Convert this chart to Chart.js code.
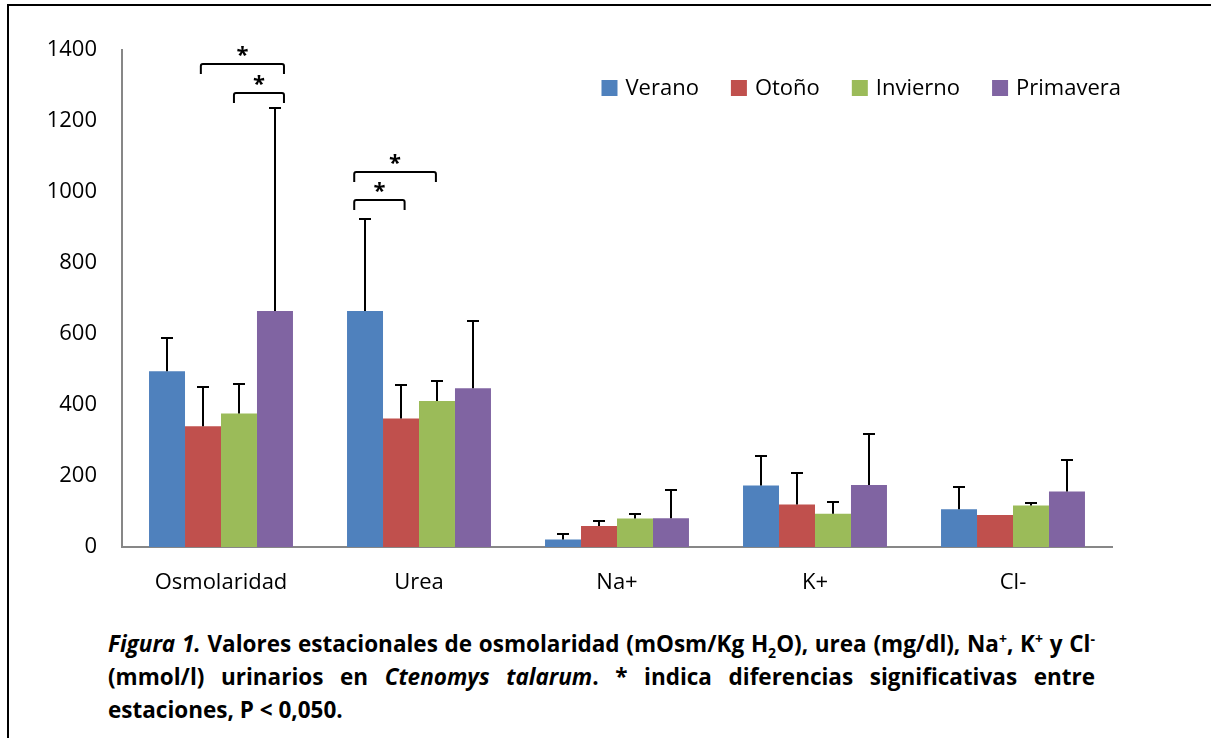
<!DOCTYPE html>
<html>
<head>
<meta charset="utf-8">
<script src="https://cdn.jsdelivr.net/npm/chart.js@4.4.1/dist/chart.umd.min.js"></script>
<style>
  html, body { margin: 0; padding: 0; background: #fff; overflow: hidden; }
  body { width: 1211px; height: 738px; position: relative; }
  #frame { position: absolute; left: 7px; top: 4px; width: 1400px; height: 900px;
           border-left: 2px solid #000; border-top: 2px solid #000; }
  #wrap { position: absolute; left: 0; top: 0; width: 1211px; height: 600px; }
  #caption { position: absolute; left: 108px; top: 627px; width: 987px;
             font-family: "Open Sans", sans-serif; font-weight: bold; font-size: 22.5px;
             line-height: 33px; color: #000; }
  #caption .j { text-align: justify; text-align-last: justify; white-space: nowrap; }
  #caption .j { white-space: normal; }
  #caption sup, #caption sub { font-size: 14px; line-height: 0; }
</style>
</head>
<body>
<div id="frame"></div>
<div id="wrap"><canvas id="c" width="1211" height="600"></canvas></div>
<div id="caption">
  <div class="j"><i>Figura 1.</i> Valores estacionales de osmolaridad (mOsm/Kg H<sub>2</sub>O), urea (mg/dl), Na<sup>+</sup>, K<sup>+</sup> y Cl<sup>-</sup></div>
  <div class="j">(mmol/l) urinarios en <i>Ctenomys talarum</i>. * indica diferencias significativas entre</div>
  <div>estaciones, P &lt; 0,050.</div>
</div>
<script>
// ---- data ----
const categories = ["Osmolaridad", "Urea", "Na+", "K+", "Cl-"];
const seriesNames = ["Verano", "Otoño", "Invierno", "Primavera"];
const verano    = [495, 665, 21, 173, 106];
const otono     = [340, 362, 59, 120, 90];
const invierno  = [376, 411, 80, 94, 117];
const primavera = [665, 447, 81, 175, 156];
// upper ends of error bars (mean + SD); null = not shown
const veranoErr    = [588, 925, 37, 255, 170];
const otonoErr     = [450, 455, 74, 209, null];
const inviernoErr  = [458, 468, 92, 126, 125];
const primaveraErr = [1237, 637, 161, 317, 245];
const yTicks = [0, 200, 400, 600, 800, 1000, 1200, 1400];
// significance brackets: category, from series, to series, level value, end offsets (in bar widths)
const brackets = [
  { cat: 0, from: 1, to: 3, level: 1361, fromOff: -0.06, toOff: 0.25 },
  { cat: 0, from: 2, to: 3, level: 1279, fromOff: -0.14, toOff: 0.25 },
  { cat: 1, from: 0, to: 2, level: 1056, fromOff: -0.3, toOff: -0.03 },
  { cat: 1, from: 0, to: 1, level: 977,  fromOff: -0.3, toOff: 0.1 }
];

const colors = ["#4F81BD", "#C0504D", "#9BBB59", "#8064A2"];
const values = [verano, otono, invierno, primavera];
const errs = [veranoErr, otonoErr, inviernoErr, primaveraErr];
const FONT = '"Open Sans", sans-serif';

const errorBarPlugin = {
  id: 'errorBars',
  afterDatasetsDraw(chart) {
    const ctx = chart.ctx;
    const y = chart.scales.y;
    ctx.save();
    ctx.strokeStyle = '#000';
    ctx.lineWidth = 2;
    chart.data.datasets.forEach((ds, i) => {
      const meta = chart.getDatasetMeta(i);
      meta.data.forEach((bar, j) => {
        const top = ds.errTop[j];
        if (top == null) return;
        const yt = Math.round(y.getPixelForValue(top));
        const yb = bar.y;
        const x = Math.round(bar.x);
        ctx.beginPath();
        ctx.moveTo(x, yb); ctx.lineTo(x, yt);
        ctx.moveTo(x - 6, yt); ctx.lineTo(x + 6, yt);
        ctx.stroke();
      });
    });
    ctx.restore();
  }
};

const bracketPlugin = {
  id: 'brackets',
  afterDatasetsDraw(chart) {
    const ctx = chart.ctx;
    const y = chart.scales.y;
    ctx.save();
    ctx.strokeStyle = '#000';
    ctx.lineWidth = 2;
    ctx.fillStyle = '#000';
    ctx.font = 'bold 22px ' + FONT;
    ctx.textAlign = 'center';
    ctx.textBaseline = 'middle';
    brackets.forEach(b => {
      const b1 = chart.getDatasetMeta(b.from).data[b.cat];
      const b2 = chart.getDatasetMeta(b.to).data[b.cat];
      const x1 = b1.x + b.fromOff * b1.width;
      const x2 = b2.x + b.toOff * b2.width;
      const yl = Math.round(y.getPixelForValue(b.level));
      ctx.beginPath();
      ctx.moveTo(x1, yl + 10);
      ctx.lineTo(x1, yl + 2);
      ctx.quadraticCurveTo(x1, yl, x1 + 2, yl);
      ctx.lineTo(x2 - 2, yl);
      ctx.quadraticCurveTo(x2, yl, x2, yl + 2);
      ctx.lineTo(x2, yl + 10);
      ctx.stroke();
      ctx.fillText('*', (x1 + x2) / 2, yl - 8);
    });
    ctx.restore();
  }
};

const legendPlugin = {
  id: 'customLegend',
  afterDraw(chart) {
    const ctx = chart.ctx;
    const area = chart.chartArea;
    ctx.save();
    ctx.font = '22px ' + FONT;
    ctx.textBaseline = 'middle';
    ctx.textAlign = 'left';
    const box = 16, gapText = 8, gapItem = 32;
    const widths = chart.data.datasets.map(d => box + gapText + ctx.measureText(d.label).width);
    const total = widths.reduce((a, b) => a + b, 0) + gapItem * (widths.length - 1);
    let x = area.right + 9 - total;
    const yc = 88;
    chart.data.datasets.forEach((d, i) => {
      ctx.fillStyle = d.backgroundColor;
      ctx.fillRect(x, yc - box / 2, box, box);
      ctx.fillStyle = '#000';
      ctx.fillText(d.label, x + box + gapText, yc + 1);
      x += widths[i] + gapItem;
    });
    ctx.restore();
  }
};

new Chart(document.getElementById('c'), {
  type: 'bar',
  data: {
    labels: categories,
    datasets: seriesNames.map((n, i) => ({
      label: n,
      data: values[i],
      errTop: errs[i],
      backgroundColor: colors[i],
      borderWidth: 0,
      categoryPercentage: 0.727,
      barPercentage: 1.0
    }))
  },
  options: {
    responsive: false,
    animation: false,
    devicePixelRatio: 1,
    layout: { padding: { left: 0, top: 50, right: 99, bottom: 0 } },
    plugins: { legend: { display: false }, tooltip: { enabled: false } },
    scales: {
      x: {
        grid: { display: false, drawTicks: false },
        border: { display: true, color: '#878787', width: 2 },
        ticks: { color: '#000', font: { family: FONT, size: 22 }, padding: 23, maxRotation: 0 },
        afterFit(s) { s.height = 53; }
      },
      y: {
        min: 0, max: 1400,
        grid: { display: false, drawTicks: false },
        border: { display: true, color: '#878787', width: 2 },
        afterBuildTicks(s) { s.ticks = yTicks.map(v => ({ value: v })); },
        ticks: { color: '#000', font: { family: FONT, size: 22 }, padding: 25,
                 callback: v => String(v) },
        afterFit(s) { s.width = 122; }
      }
    }
  },
  plugins: [errorBarPlugin, bracketPlugin, legendPlugin]
});
</script>
</body>
</html>
